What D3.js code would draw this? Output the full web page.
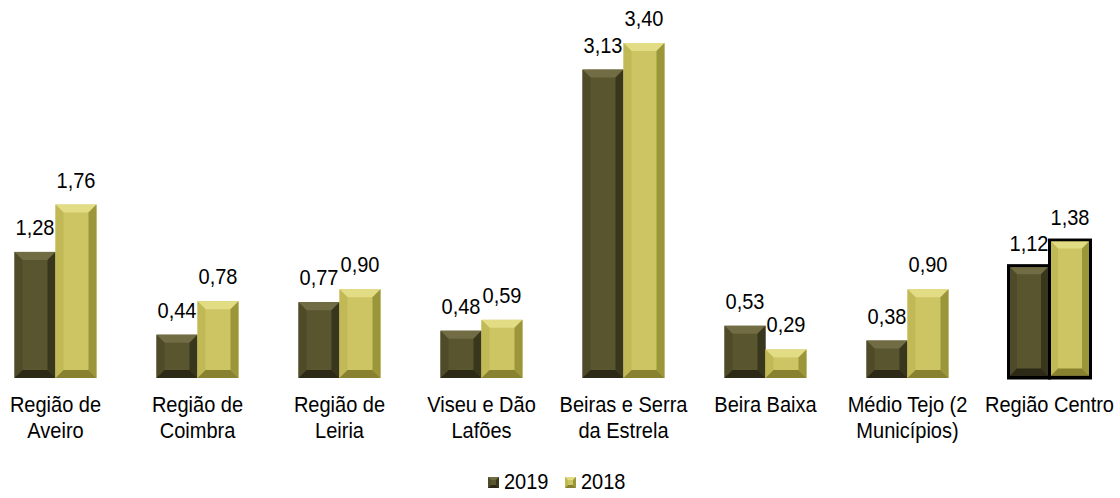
<!DOCTYPE html>
<html><head><meta charset="utf-8">
<script src="https://cdn.jsdelivr.net/npm/d3@7"></script>
<style>body{margin:0;background:#fff}svg{display:block}text{font-family:"Liberation Sans",Arial,sans-serif;fill:#000}</style>
</head><body>
<svg id="c" width="1120" height="498"></svg>
<script>
const categories = [["Região de","Aveiro"],["Região de","Coimbra"],["Região de","Leiria"],["Viseu e Dão","Lafões"],["Beiras e Serra","da Estrela"],["Beira Baixa"],["Médio Tejo (2","Municípios)"],["Região Centro"]];
const series = ["2019","2018"];
const values2019 = [1.28,0.44,0.77,0.48,3.13,0.53,0.38,1.12];
const values2018 = [1.76,0.78,0.90,0.59,3.40,0.29,0.90,1.38];
const highlighted = [false,false,false,false,false,false,false,true];

const svg = d3.select("#c");
const x = d3.scaleBand().domain(d3.range(categories.length)).range([-15.5, 1120.5]).paddingInner(0).paddingOuter(0);
const y = d3.scaleLinear().domain([0,3.40]).range([378, 43]);
const barW = 41;
const pal = [
  {face:"#59552f", top:"#716c44", left:"#4f4b29", right:"#38361c", bottom:"#2c2a16"},
  {face:"#cdc563", top:"#e2dc84", left:"#c1b956", right:"#9c963b", bottom:"#878130"}
];
const fmt = v => d3.format(".2f")(v).replace(".", ",");

function txt(xp, yp, str, anchor) {
  const g = svg.append("g").attr("transform", `translate(${xp},${yp}) scale(0.91,1)`);
  g.append("text").attr("x",0).attr("y",0).attr("text-anchor", anchor || "middle").attr("font-size",22).text(str);
}

function bevelBar(g, x0, y0, w, h, c, bv) {
  const x1 = x0 + w, y1 = y0 + h;
  const b = Math.min(bv, w/2, h/2);
  g.append("rect").attr("x",x0).attr("y",y0).attr("width",w).attr("height",h).attr("fill",c.face);
  const poly = (pts, fill) => g.append("polygon").attr("points", pts.map(p=>p.join(",")).join(" ")).attr("fill", fill);
  poly([[x0,y0],[x1,y0],[x1-b,y0+b],[x0+b,y0+b]], c.top);
  poly([[x0,y0],[x0+b,y0+b],[x0+b,y1-b],[x0,y1]], c.left);
  poly([[x1,y0],[x1,y1],[x1-b,y1-b],[x1-b,y0+b]], c.right);
  poly([[x0,y1],[x0+b,y1-b],[x1-b,y1-b],[x1,y1]], c.bottom);
}

categories.forEach((cat, i) => {
  const cx = x(i) + x.bandwidth()/2;
  const vals = [values2019[i], values2018[i]];
  vals.forEach((v, s) => {
    const g = svg.append("g");
    const x0 = s === 0 ? cx - barW : cx;
    const y0 = y(v), h = y(0) - y(v);
    if (highlighted[i]) {
      g.append("rect").attr("x", x0-1.5).attr("y", y0-3.5).attr("width", barW+3).attr("height", h+5).attr("fill","#000");
      bevelBar(g, x0+1.5, y0-0.5, barW-3, h-2, pal[s], 7);
    } else {
      bevelBar(g, x0, y0, barW, h, pal[s], 8);
    }
    txt(x0 + barW/2, y0 - 17, fmt(v));
  });
  cat.forEach((line, k) => txt(cx, 412 + k*26, line));
});

// legend
const legX = [488, 565];
series.forEach((s, k) => {
  const g = svg.append("g");
  bevelBar(g, legX[k], 477, 11, 11, pal[k], 3);
  txt(legX[k] + 16, 489, s, "start");
});
</script>
</body></html>
